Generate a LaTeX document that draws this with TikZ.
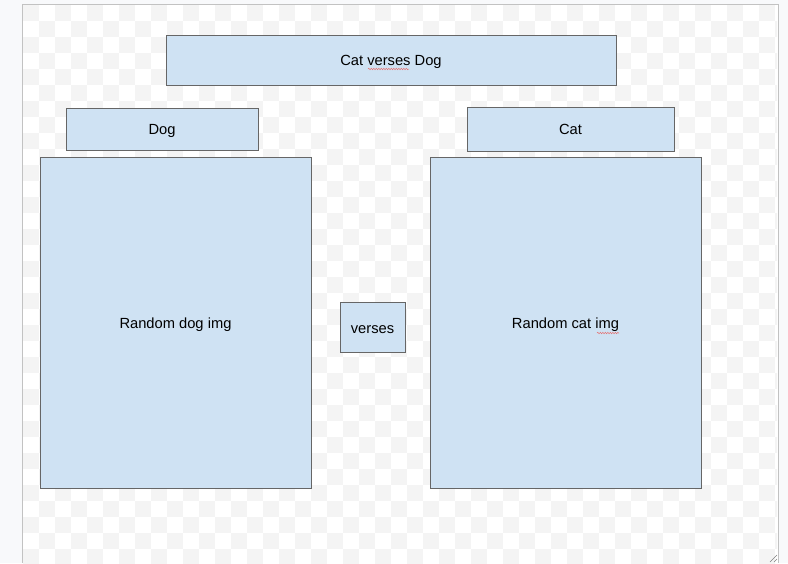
\documentclass[tikz,border=0pt]{standalone}
\usepackage{fontspec}
\setmainfont{Liberation Sans}
\usetikzlibrary{decorations.pathmorphing}
\definecolor{panelblue}{HTML}{CFE2F3}
\definecolor{panelline}{HTML}{666666}
\definecolor{checkgray}{HTML}{F4F4F4}
\definecolor{pagegray}{HTML}{F8F9FB}
\definecolor{framegray}{HTML}{C2C2C2}
\definecolor{spellred}{HTML}{E57373}

\begin{document}
\begin{tikzpicture}[x=1pt, y=-1pt, every node/.style={align=center, font=\fontsize{14.7}{17}\selectfont},
  panel/.style={draw=panelline, line width=0.9pt, fill=panelblue, inner sep=0pt, text height=11pt, text depth=0pt}]
\useasboundingbox (0,0) rectangle (788,563);
% Draw the page and the checkered canvas
\fill[pagegray] (0,0) rectangle (788,563);
\fill[white] (22,4) rectangle (778,563);
\begin{scope}
\clip (23,5) rectangle (777,563);
\foreach \i in {0,...,47} \foreach \j in {0,...,35} {
  \pgfmathtruncatemacro\k{mod(\i+\j,2)}
  \ifnum\k=0 \fill[checkgray] (23+16*\i,5+16*\j) rectangle ++(16,16); \fi
}
\end{scope}
\draw[framegray, line width=1pt] (22,563) -- (22,4) -- (778,4) -- (778,563);

% Draw the boxes
\node[panel, minimum width=450pt, minimum height=50pt] (title) at (391,60) {Cat verses Dog};
\node[panel, minimum width=192pt, minimum height=42pt] (dog) at (162,129) {Dog};
\node[panel, minimum width=207pt, minimum height=44pt] (cat) at (570.5,129) {Cat};
\node[panel, minimum width=271pt, minimum height=331pt] (dogimg) at (175.5,322.5) {Random dog img};
\node[panel, minimum width=271pt, minimum height=331pt] (catimg) at (565.5,322.5) {Random cat img};
\node[panel, minimum width=65pt, minimum height=50pt] (verses) at (372.5,327.5) {verses};

% Draw the spell check marks
\draw[spellred, line width=0.5pt, decorate, decoration={snake, segment length=2.5pt, amplitude=0.7pt}] (368,69) -- (409,69);
\draw[spellred, line width=0.5pt, decorate, decoration={snake, segment length=2.5pt, amplitude=0.7pt}] (597,333) -- (619,333);

% Draw the resize grip
\draw[gray, line width=0.6pt] (770,562) -- (777,555);
\draw[gray, line width=0.6pt] (774,562) -- (777,559);
\end{tikzpicture}
\end{document}
